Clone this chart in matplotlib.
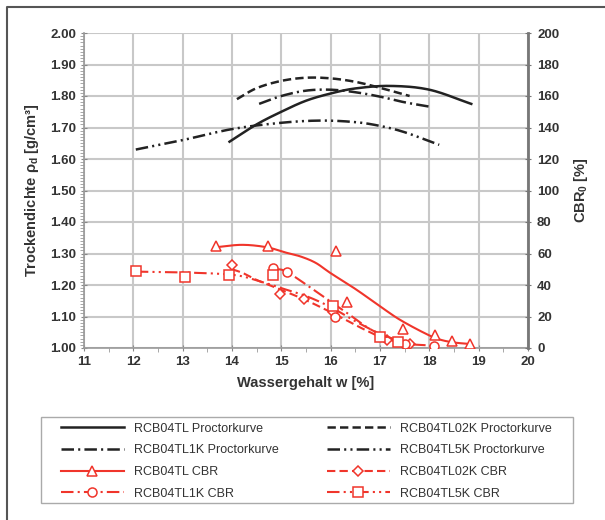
import numpy as np
import matplotlib
matplotlib.use("Agg")
import matplotlib.pyplot as plt
from matplotlib.lines import Line2D
from matplotlib.patches import Rectangle
from matplotlib.ticker import MultipleLocator, FormatStrFormatter

plt.rcParams['font.family'] = ['Liberation Sans', 'DejaVu Sans']
plt.rcParams['mathtext.fontset'] = 'custom'
plt.rcParams['mathtext.rm'] = 'Liberation Sans:bold'
plt.rcParams['mathtext.it'] = 'Liberation Sans:bold'
plt.rcParams['mathtext.bf'] = 'Liberation Sans:bold'
plt.rcParams['lines.scale_dashes'] = False

# ---- Proctor curves: water content w [%] vs dry density [g/cm3] ----
tl_w = [13.95, 14.5, 15.0, 15.5, 16.0, 16.5, 17.2, 18.0, 18.85]
tl_rho = [1.655, 1.71, 1.75, 1.785, 1.808, 1.824, 1.832, 1.82, 1.775]

tl02k_w = [14.1, 14.5, 15.0, 15.5, 16.0, 16.5, 17.0, 17.6]
tl02k_rho = [1.79, 1.825, 1.848, 1.858, 1.856, 1.845, 1.826, 1.80]

tl1k_w = [14.55, 15.0, 15.5, 16.0, 16.5, 17.0, 17.5, 18.05]
tl1k_rho = [1.775, 1.80, 1.817, 1.82, 1.812, 1.798, 1.78, 1.765]

tl5k_w = [12.05, 13.0, 14.0, 15.0, 15.8, 16.5, 17.0, 17.5, 18.2]
tl5k_rho = [1.63, 1.66, 1.695, 1.715, 1.722, 1.717, 1.705, 1.685, 1.645]

# ---- CBR measurements [%] ----
cbr_tl_w = [13.68, 14.73, 16.11, 16.33, 17.47, 18.11, 18.45, 18.82]
cbr_tl = [64.5, 64.8, 61.5, 29.0, 12.0, 8.0, 4.7, 2.5]
cbr_tl02k_w = [14.01, 14.97, 15.46, 16.05, 17.15, 17.6]
cbr_tl02k = [52.7, 34.3, 30.9, 23.0, 5.0, 2.5]
cbr_tl1k_w = [14.84, 15.11, 16.09, 17.5, 18.1]
cbr_tl1k = [50.6, 48.5, 19.5, 2.5, 1.3]
cbr_tl5k_w = [12.05, 13.05, 13.93, 14.84, 16.05, 17.0, 17.37]
cbr_tl5k = [49.0, 45.3, 46.3, 46.3, 26.7, 7.2, 4.0]

# ---- CBR trend curves ----
fit_tl_w = [13.68, 14.2, 14.7, 15.1, 15.4, 15.7, 16.0, 16.5, 17.0, 17.4, 17.9, 18.2, 18.5, 18.85]
fit_tl = [64.0, 65.5, 64.0, 60.5, 58.0, 54.0, 47.5, 37.5, 26.5, 18.0, 9.5, 5.5, 3.5, 2.5]
fit_tl02k_w = [14.0, 14.22, 14.5, 14.84, 15.46, 16.05, 16.6, 17.1, 17.6]
fit_tl02k = [50.0, 47.6, 43.2, 38.9, 30.9, 22.0, 13.0, 6.0, 2.5]
fit_tl1k_w = [14.85, 15.1, 15.7, 16.3, 16.8, 17.3, 17.6, 18.1]
fit_tl1k = [50.0, 48.5, 36.0, 23.0, 12.0, 5.0, 2.5, 1.5]
fit_tl5k_w = [12.05, 13.0, 14.0, 14.5, 15.0, 15.5, 16.0, 16.5, 17.0, 17.4]
fit_tl5k = [48.5, 48.0, 46.5, 43.0, 38.0, 33.0, 26.0, 17.0, 9.0, 4.5]

x_ticks = list(range(11, 21))
rho_ticks = [1.0 + 0.1 * i for i in range(11)]
cbr_ticks = list(range(0, 201, 20))

BLACK = '#222222'
RED = '#f0352b'
TXT = '#333333'

ls_dash = (0, (6, 3))
ls_dashdot = (0, (9, 3, 1.5, 3))
ls_dashdotdot = (0, (9, 3, 1.5, 3, 1.5, 3))


def smooth(x, y, per=20):
    """Catmull-Rom curve through the given points."""
    p = np.column_stack([np.asarray(x, float), np.asarray(y, float)])
    p = np.vstack([2 * p[0] - p[1], p, 2 * p[-1] - p[-2]])
    t = np.linspace(0, 1, per, endpoint=False)[:, None]
    segs = []
    for i in range(1, len(p) - 2):
        p0, p1, p2, p3 = p[i - 1], p[i], p[i + 1], p[i + 2]
        segs.append(0.5 * (2 * p1 + (-p0 + p2) * t
                           + (2 * p0 - 5 * p1 + 4 * p2 - p3) * t ** 2
                           + (-p0 + 3 * p1 - 3 * p2 + p3) * t ** 3))
    segs.append(p[-2][None, :])
    out = np.vstack(segs)
    return out[:, 0], out[:, 1]


W, H = 605, 520
fig = plt.figure(figsize=(W / 100, H / 100), dpi=100)
ax = fig.add_axes([84 / W, 1 - 348 / H, 444 / W, 315 / H])
ax2 = ax.twinx()

ax.set_xlim(11, 20)
ax.set_ylim(1.0, 2.0)
ax2.set_ylim(0, 200)

ax.set_xticks(x_ticks)
ax.set_yticks(rho_ticks)
ax.yaxis.set_major_formatter(FormatStrFormatter('%.2f'))
ax.xaxis.set_minor_locator(MultipleLocator(0.5))
ax.yaxis.set_minor_locator(MultipleLocator(0.01))
ax2.set_yticks(cbr_ticks)

ax.grid(True, which='major', color='#c8c8c8', lw=1.5)
ax.set_axisbelow(True)

ax.spines['top'].set_visible(False)
ax2.spines['top'].set_visible(False)
ax.spines['right'].set_visible(False)
ax.spines['left'].set_color('#999999')
ax.spines['bottom'].set_color('#999999')
ax.spines['left'].set_linewidth(1.2)
ax.spines['bottom'].set_linewidth(1.2)
ax2.spines['left'].set_visible(False)
ax2.spines['bottom'].set_visible(False)
ax2.spines['right'].set_color('#777777')
ax2.spines['right'].set_linewidth(2)

ax.tick_params(axis='both', which='major', direction='inout', length=5,
               color='#888888', labelsize=9.5, labelcolor=TXT, pad=3)
ax.tick_params(axis='both', which='minor', direction='out', length=3,
               color='#999999')
ax2.tick_params(axis='y', which='major', direction='inout', length=5,
                color='#777777', labelsize=9.5, labelcolor=TXT, pad=4)
for lab in ax.get_xticklabels() + ax.get_yticklabels() + ax2.get_yticklabels():
    lab.set_fontweight('bold')

ax.set_xlabel('Wassergehalt w [%]', fontsize=10.5, fontweight='bold',
              color=TXT, labelpad=6)
ax.set_ylabel('Trockendichte ρ$_{\\rm d}$ [g/cm³]', fontsize=10.5,
              fontweight='bold', color=TXT, labelpad=7)
ax2.set_ylabel('CBR$_{\\rm 0}$ [%]', fontsize=10.5, fontweight='bold',
               color=TXT, labelpad=9)

# Proctor curves
proctor = [
    (tl_w, tl_rho, '-', 'RCB04TL Proctorkurve'),
    (tl02k_w, tl02k_rho, ls_dash, 'RCB04TL02K Proctorkurve'),
    (tl1k_w, tl1k_rho, ls_dashdot, 'RCB04TL1K Proctorkurve'),
    (tl5k_w, tl5k_rho, ls_dashdotdot, 'RCB04TL5K Proctorkurve'),
]
handles = {}
for w, r, ls, name in proctor:
    sx, sy = smooth(w, r)
    ax.plot(sx, sy, color=BLACK, lw=1.8, ls=ls)
    handles[name] = Line2D([], [], color=BLACK, lw=1.8, ls=ls)

# CBR series: trend curve plus measured points
cbr = [
    (fit_tl_w, fit_tl, cbr_tl_w, cbr_tl, '-', '^', 'RCB04TL CBR'),
    (fit_tl02k_w, fit_tl02k, cbr_tl02k_w, cbr_tl02k, ls_dash, 'D', 'RCB04TL02K CBR'),
    (fit_tl1k_w, fit_tl1k, cbr_tl1k_w, cbr_tl1k, ls_dashdot, 'o', 'RCB04TL1K CBR'),
    (fit_tl5k_w, fit_tl5k, cbr_tl5k_w, cbr_tl5k, ls_dashdotdot, 's', 'RCB04TL5K CBR'),
]
for fw, fv, mw, mv, ls, mk, name in cbr:
    sx, sy = smooth(fw, fv)
    ax2.plot(sx, sy, color=RED, lw=1.5, ls=ls)
    ms = 5.5 if mk == 'D' else 6.5
    ax2.plot(mw, mv, ls='none', marker=mk, ms=ms, mfc='white', mec=RED, mew=1.1)
    handles[name] = Line2D([], [], color=RED, lw=1.5, ls=ls, marker=mk, ms=ms,
                           mfc='white', mec=RED, mew=1.1)

# legend box
fig.add_artist(Rectangle((41 / W, 1 - 503 / H), 532 / W, 86 / H,
                         transform=fig.transFigure, fill=False,
                         edgecolor='#aaaaaa', lw=1.0))
order = ['RCB04TL Proctorkurve', 'RCB04TL1K Proctorkurve', 'RCB04TL CBR',
         'RCB04TL1K CBR', 'RCB04TL02K Proctorkurve', 'RCB04TL5K Proctorkurve',
         'RCB04TL02K CBR', 'RCB04TL5K CBR']
leg = fig.legend([handles[n] for n in order], order, ncol=2,
                 loc='upper left', bbox_to_anchor=(61 / W, 1 - 422.5 / H),
                 borderaxespad=0, borderpad=0, fontsize=9, frameon=False,
                 handlelength=5.0, handletextpad=0.8, labelspacing=0.78,
                 columnspacing=3.9, labelcolor=TXT)

# outer frame
fig.add_artist(Line2D([7 / W, 7 / W, 1.0], [0.0, 1 - 7 / H, 1 - 7 / H],
                      transform=fig.transFigure, color='#555555', lw=1.5))

fig.savefig('out.png', dpi=100)
